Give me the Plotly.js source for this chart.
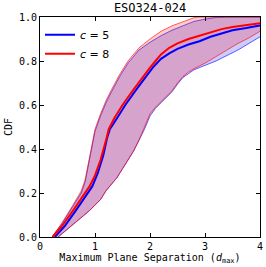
<!DOCTYPE html>
<html>
<head>
<meta charset="utf-8">
<script src="https://cdn.plot.ly/plotly-3.0.1.min.js"></script>
<style>html,body{margin:0;padding:0;background:#fff;}#chart{width:266px;height:267px;}</style>
</head>
<body>
<div id="chart"></div>
<script>
// c = 5 median
const c5MedX = [0.27,0.45,0.65,0.85,0.95,1.05,1.15,1.22,1.27,1.4,1.55,1.75,1.95,2.05,2.2,2.35,2.5,2.7,2.9,3.1,3.3,3.5,3.75,4.0];
const c5MedY = [0,0.05,0.12,0.19,0.23,0.29,0.37,0.45,0.49,0.54,0.60,0.67,0.74,0.77,0.81,0.835,0.855,0.875,0.89,0.91,0.925,0.94,0.95,0.962];
// c = 8 median
const c8MedX = [0.23,0.4,0.6,0.8,0.9,1.0,1.1,1.2,1.25,1.35,1.5,1.7,1.9,2.0,2.1,2.2,2.35,2.5,2.7,2.9,3.1,3.3,3.5,3.75,4.0];
const c8MedY = [0,0.05,0.12,0.19,0.23,0.28,0.35,0.44,0.49,0.54,0.60,0.67,0.74,0.77,0.80,0.83,0.86,0.88,0.90,0.915,0.93,0.945,0.955,0.965,0.972];
// c = 5 band
const c5UpX = [0.22,0.4,0.6,0.75,0.82,0.9,0.95,1.0,1.1,1.2,1.3,1.45,1.6,1.8,2.0,2.2,2.4,2.6,2.8,3.0,3.2,3.4,4.0];
const c5UpY = [0,0.06,0.14,0.2,0.25,0.35,0.42,0.48,0.55,0.61,0.66,0.73,0.79,0.85,0.885,0.915,0.94,0.96,0.98,0.99,0.998,1.0,1.0];
const c5LoX = [0.33,0.5,0.7,0.9,1.0,1.1,1.2,1.3,1.4,1.5,1.6,1.7,1.8,1.9,2.0,2.1,2.2,2.4,2.5,2.6,2.8,3.0,3.2,3.4,3.6,3.8,4.0];
const c5LoY = [0,0.035,0.08,0.12,0.145,0.17,0.21,0.24,0.27,0.31,0.35,0.39,0.44,0.49,0.55,0.585,0.61,0.66,0.695,0.725,0.76,0.78,0.80,0.825,0.85,0.88,0.91];
// c = 8 band
const c8UpX = [0.22,0.4,0.6,0.75,0.82,0.9,0.95,1.0,1.1,1.2,1.3,1.45,1.6,1.8,2.0,2.2,2.4,2.6,2.8,2.9,4.0];
const c8UpY = [0,0.065,0.145,0.21,0.26,0.36,0.43,0.49,0.56,0.62,0.67,0.74,0.80,0.86,0.90,0.935,0.96,0.98,0.997,1.0,1.0];
const c8LoX = [0.33,0.5,0.7,0.9,1.0,1.1,1.2,1.3,1.4,1.5,1.6,1.7,1.8,1.9,2.0,2.1,2.2,2.4,2.5,2.6,2.7,2.8,3.0,3.2,3.4,3.6,3.8,4.0];
const c8LoY = [0,0.035,0.08,0.12,0.145,0.17,0.21,0.24,0.27,0.31,0.35,0.39,0.44,0.50,0.56,0.59,0.615,0.665,0.70,0.73,0.75,0.765,0.79,0.82,0.85,0.88,0.905,0.935];

const xTicks = [0,1,2,3,4];
const yTicks = [0,0.2,0.4,0.6,0.8,1.0];

const blue = '#0000ff', red = '#ff0000';
const traces = [
  {x:c5LoX, y:c5LoY, mode:'lines', line:{color:blue,width:0.6}, showlegend:false, hoverinfo:'skip'},
  {x:c5UpX, y:c5UpY, mode:'lines', line:{color:blue,width:0.6}, fill:'tonexty', fillcolor:'rgba(0,0,255,0.2)', showlegend:false, hoverinfo:'skip'},
  {x:c8LoX, y:c8LoY, mode:'lines', line:{color:red,width:0.6}, showlegend:false, hoverinfo:'skip'},
  {x:c8UpX, y:c8UpY, mode:'lines', line:{color:red,width:0.6}, fill:'tonexty', fillcolor:'rgba(255,0,0,0.2)', showlegend:false, hoverinfo:'skip'},
  {x:c5MedX, y:c5MedY, mode:'lines', line:{color:blue,width:2}, name:'<i>c</i> = 5'},
  {x:c8MedX, y:c8MedY, mode:'lines', line:{color:red,width:2}, name:'<i>c</i> = 8'}
];

const mono = 'DejaVu Sans Mono';
const axisCommon = {
  showline:true, linecolor:'#000', linewidth:1, mirror:'ticks',
  ticks:'inside', ticklen:4, tickcolor:'#000', tickwidth:1,
  showgrid:false, zeroline:false, tickfont:{family:mono,size:10,color:'#000'}
};
const layout = {
  width:266, height:267,
  margin:{l:40, r:6, t:17, b:30},
  paper_bgcolor:'#fff', plot_bgcolor:'#fff',
  title:{text:'ESO324-024', font:{family:mono,size:12,color:'#000'}, x:0.5, xref:'paper', xanchor:'center', y:0.969, yref:'container', yanchor:'middle'},
  xaxis:Object.assign({}, axisCommon, {range:[0,4], tickvals:xTicks, ticktext:xTicks.map(String),
    title:{text:'Maximum Plane Separation (<i>d</i><sub>max</sub>)', font:{family:mono,size:10,color:'#000'}, standoff:2}}),
  yaxis:Object.assign({}, axisCommon, {range:[0,1], tickvals:yTicks, ticktext:yTicks.map(v=>v.toFixed(1)),
    title:{text:'CDF', font:{family:mono,size:10,color:'#000'}, standoff:4}}),
  legend:{x:0.0, y:0.985, xanchor:'left', yanchor:'top', traceorder:'normal', bgcolor:'rgba(0,0,0,0)', font:{family:'DejaVu Sans',size:11,color:'#000'}, tracegroupgap:0, itemwidth:30},
  showlegend:true
};
Plotly.newPlot('chart', traces, layout, {displayModeBar:false, staticPlot:true});
</script>
</body>
</html>
